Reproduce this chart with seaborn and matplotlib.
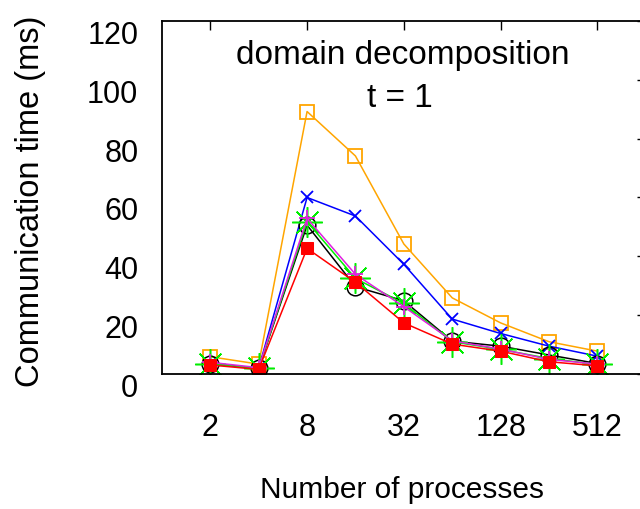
import matplotlib
matplotlib.use("Agg")
import pandas as pd
import matplotlib.pyplot as plt
import matplotlib.transforms as mtransforms
import seaborn as sns

# ==================================================
# Data
# ==================================================
procs = [2, 4, 8, 16, 32, 64, 128, 256, 512]

orange_sq = [5.9, 3.4, 89.2, 74.1, 44.2, 25.9, 17.4, 11.0, 7.8]
blue_x = [3.5, 2.0, 60.0, 53.7, 37.3, 18.7, 13.8, 9.5, 6.1]
black_circ = [3.6, 2.0, 50.6, 29.7, 24.9, 11.2, 9.5, 6.5, 3.6]
green_star = [3.5, 2.0, 51.8, 32.5, 24.0, 11.0, 8.4, 5.3, 3.3]
magenta_plus = [4.0, 2.2, 52.9, 33.9, 22.9, 11.3, 8.5, 5.0, 3.4]
red_sq = [3.1, 1.6, 42.7, 31.2, 17.4, 10.2, 7.8, 4.2, 2.8]

xticks = [2, 8, 32, 128, 512]
yticks = [0, 20, 40, 60, 80, 100, 120]

# ==================================================
# Settings
# ==================================================
sns.set_theme(style="white")
plt.rcParams["font.family"] = ["Liberation Sans", "DejaVu Sans"]
plt.rcParams["text.color"] = "black"
plt.rcParams["axes.labelcolor"] = "black"

fig = plt.figure(figsize=(6.4, 5.09), dpi=100)
ax = fig.add_axes([0.253, 0.265, 0.756, 0.694])

df = pd.DataFrame({"procs": procs})

series = [
    (orange_sq, "#FFA500", dict(marker="s", ms=9.5, mfc="none", mew=1.3)),
    (blue_x, "#0000FF", dict(marker="x", ms=9, mew=1.3)),
    (black_circ, "black", dict(marker="o", ms=12, mfc="none", mew=1.1)),
    (green_star, "#00EE00", dict(marker=(8, 2, 0), ms=22, mew=1.1)),
    (magenta_plus, "#E020E0", dict(marker="+", ms=12, mew=1.3)),
    (red_sq, "#FF0000", dict(marker="s", ms=9)),
]

for vals, col, kw in series:
    sns.lineplot(x=df["procs"], y=vals, color=col, lw=1.1, ax=ax,
                 mec=col, **kw)

ax.set_xscale("log", base=2)
ax.set_xlim(1, 1024)
ax.set_ylim(0, 120)
ax.set_xticks(xticks)
ax.set_xticklabels([str(t) for t in xticks])
ax.minorticks_off()
ax.set_yticks(yticks)

ax.tick_params(direction="in", length=6.5, width=1, labelsize=22,
               top=True, right=True, colors="black")
ax.tick_params(axis="x", pad=28)
ax.tick_params(axis="y", pad=17)
for lab in ax.get_yticklabels():
    lab.set_transform(lab.get_transform() +
                      mtransforms.ScaledTranslation(0, -11.5 / 100, fig.dpi_scale_trans))

for s in ax.spines.values():
    s.set_color("black")
    s.set_linewidth(1.3)

ax.set_xlabel("Number of processes", fontsize=21.5, va="top")
ax.xaxis.set_label_coords(0.497, -0.289)
ax.set_ylabel("Communication time (ms)", fontsize=23.5, va="center")
ax.yaxis.set_label_coords(-0.271, 0.489)

ax.text(0.497, 0.878, "domain decomposition", transform=ax.transAxes,
        ha="center", va="baseline", fontsize=24)
ax.text(0.492, 0.757, "t = 1", transform=ax.transAxes,
        ha="center", va="baseline", fontsize=24)

fig.savefig("out.png", dpi=100)
